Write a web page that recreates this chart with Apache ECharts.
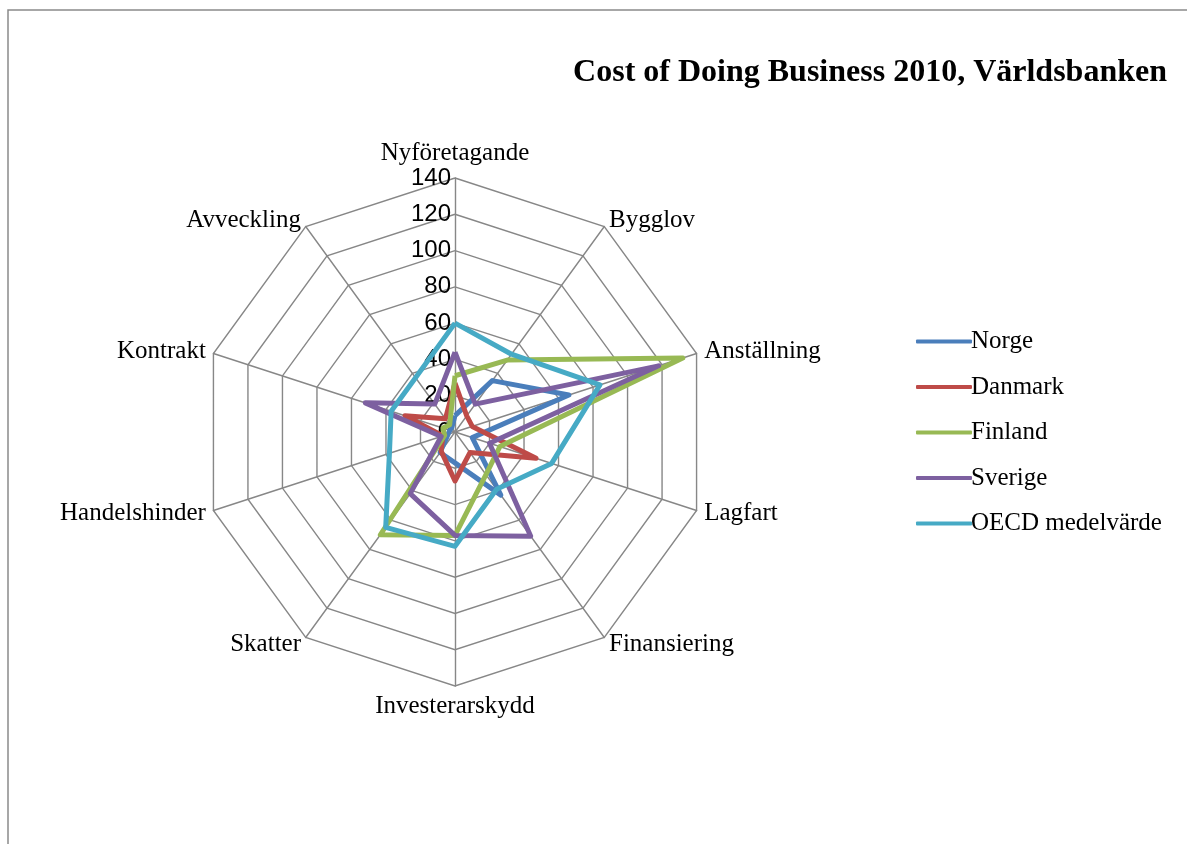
<!DOCTYPE html>
<html>
<head>
<meta charset="utf-8">
<title>Cost of Doing Business 2010</title>
<script src="https://cdn.jsdelivr.net/npm/echarts@6/dist/echarts.min.js"></script>
<style>
  html, body { margin: 0; padding: 0; background: #fff; }
  #chart { width: 1187px; height: 844px; }
</style>
</head>
<body>
<div id="chart"></div>
<script>
// indicators, clockwise from the top
const categories = ['Nyföretagande', 'Bygglov', 'Anställning', 'Lagfart', 'Finansiering',
  'Investerarskydd', 'Skatter', 'Handelshinder', 'Kontrakt', 'Avveckling'];
const seriesNames = ['Norge', 'Danmark', 'Finland', 'Sverige', 'OECD medelvärde'];

const norge   = [9, 35, 66, 10, 43, 17, 14, 4, 3, 3];
const danmark = [27, 11, 10, 47, 14, 27, 13, 7, 29, 9];
const finland = [31, 49, 132, 26, 29, 57, 70, 6, 7, 5];
const sverige = [44, 19, 118, 20, 71, 57, 42, 8, 52, 19];
const oecd    = [60, 53, 84, 56, 39, 63, 65, 38, 37, 37];

const colors = ['#4A7EBB', '#BE4B48', '#98B954', '#7D60A0', '#46AAC5'];
const axisMax = 140;
const axisSplits = 7;

// echarts lays radar axes out counter-clockwise, so keep the first one and reverse the rest
const cw = arr => [arr[0]].concat(arr.slice(1).reverse());

const chart = echarts.init(document.getElementById('chart'));
const gridGray = '#878787';
const serif = '"Liberation Serif", "DejaVu Serif", serif';

const indicator = cw(categories).map((name, i) => {
  const ind = { name, min: 0, max: axisMax };
  if (i === 0) {
    // only the first axis carries the value labels
    ind.axisLabel = {
      show: true, color: '#000', fontSize: 24, margin: 4,
      fontFamily: '"Liberation Sans", Arial, sans-serif'
    };
  }
  return ind;
});

const allValues = [norge, danmark, finland, sverige, oecd];
const series = [{
  type: 'radar',
  symbol: 'none',
  data: allValues.map((vals, i) => ({
    name: seriesNames[i],
    value: cw(vals),
    lineStyle: { color: colors[i], width: 5 },
    itemStyle: { color: colors[i] }
  }))
}];

chart.setOption({
  animation: false,
  color: colors,
  title: {
    text: 'Cost of Doing Business 2010, Världsbanken',
    right: 15, top: 52,
    textStyle: { fontFamily: serif, fontSize: 32, fontWeight: 'bold', color: '#000' }
  },
  legend: {
    orient: 'vertical',
    left: 911, top: 324,
    icon: 'roundRect',
    itemWidth: 56, itemHeight: 4, itemGap: 20.5,
    data: seriesNames,
    textStyle: { fontFamily: serif, fontSize: 25, lineHeight: 25, color: '#000', padding: [0, 0, 0, -6] }
  },
  radar: {
    center: [455, 432],
    radius: 254,
    startAngle: 90,
    shape: 'polygon',
    splitNumber: axisSplits,
    indicator,
    axisName: { color: '#000', fontFamily: serif, fontSize: 25 },
    nameGap: 8,
    axisLabel: { show: false },
    axisLine: { lineStyle: { color: gridGray, width: 1.4 } },
    splitLine: { lineStyle: { color: gridGray, width: 1.4 } },
    splitArea: { show: false }
  },
  graphic: [{
    type: 'rect',
    shape: { x: 8, y: 10, width: 1200, height: 900 },
    style: { fill: 'none', stroke: '#8a8a8a', lineWidth: 1.5 },
    silent: true
  }],
  series
});
</script>
</body>
</html>
